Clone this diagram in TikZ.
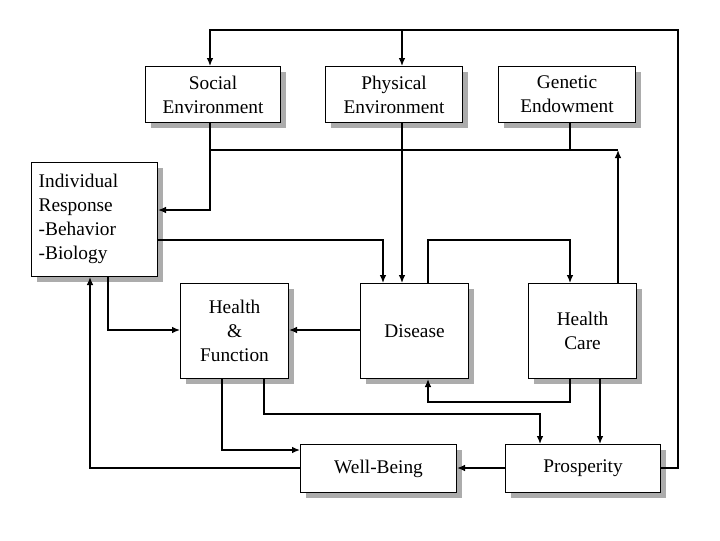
\documentclass[tikz,border=0pt]{standalone}
\usepackage{fontspec}
\setmainfont{Liberation Serif}
\usetikzlibrary{arrows.meta}
\begin{document}
\begin{tikzpicture}[x=0.75pt,y=-0.75pt,
  box/.style={draw,line width=0.8pt,fill=white,align=center,inner sep=0pt,anchor=north west,
    font=\fontsize{14.5}{18}\selectfont},
  sh/.style={fill=gray!70,draw=none},
  ln/.style={line width=1pt},
  ar/.style={ln,-{Latex[length=6pt,width=5pt]}}]
\useasboundingbox (0,0) rectangle (720,540);
\def\bx#1#2#3#4#5#6{%
  \fill[gray!65] (#2+6,#3+6) rectangle (#2+#4+6,#3+#5+6);
  \node[box,minimum width=#4*0.75pt,minimum height=#5*0.75pt] (#1) at (#2,#3) {#6};}
\bx{soc}{145}{66}{135}{56}{Social\\Environment}
\bx{phy}{325}{66}{137}{56}{Physical\\Environment}
\bx{gen}{498}{66}{137}{56}{Genetic\\Endowment}
\bx{ind}{31}{162}{126}{114}{}
\node[font=\fontsize{14.5}{18}\selectfont,align=left,anchor=west] (indt) at (34,219) {Individual\\Response\\-Behavior\\-Biology};
\bx{hf}{180}{283}{108}{95}{Health\\\&\\Function}
\bx{dis}{360}{283}{108}{95}{Disease}
\bx{hc}{528}{283}{108}{95}{Health\\Care}
\bx{wb}{300}{444}{156}{48}{Well-Being}
\bx{pro}{505}{444}{155}{48}{Prosperity}
\coordinate (c1) at (678,30);
\coordinate (c2) at (210,30);
\draw[ar] (pro.east|-0,468) -- (678,468) -- (c1) -- (c2) -- (soc.north-|c2);
\draw[ar] (402,30) -- (phy.north-|402,0);
\draw[ln] (210,150) -- (618,150);
\draw[ar] (soc.south-|210,0) -- (210,210) -- (ind.east|-0,210);
\draw[ar] (phy.south-|402,0) -- (dis.north-|402,0);
\draw[ln] (gen.south-|570,0) -- (570,150);
\draw[ar] (hc.north-|618,0) -- (618,150);
\draw[ar] (ind.east|-0,240) -- (383,240) -- (dis.north-|383,0);
\draw[ar] (dis.north-|428,0) -- (428,240) -- (570,240) -- (hc.north-|570,0);
\draw[ar] (ind.south-|108,0) -- (108,330) -- (hf.west|-0,330);
\draw[ar] (dis.west|-0,330) -- (hf.east|-0,330);
\draw[ar] (hc.south-|570,0) -- (570,402) -- (428,402) -- (dis.south-|428,0);
\draw[ar] (hc.south-|600,0) -- (pro.north-|600,0);
\draw[ar] (hf.south-|264,0) -- (264,414) -- (540,414) -- (pro.north-|540,0);
\draw[ar] (hf.south-|222,0) -- (222,450) -- (wb.west|-0,450);
\draw[ar] (pro.west|-0,468) -- (wb.east|-0,468);
\draw[ar] (wb.west|-0,468) -- (90,468) -- (ind.south-|90,0);
\end{tikzpicture}
\end{document}
